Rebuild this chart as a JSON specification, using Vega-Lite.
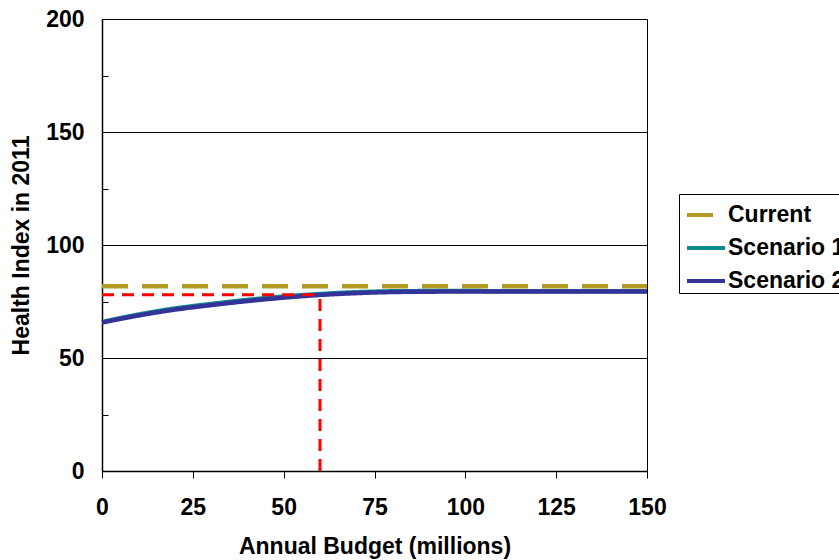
{
  "$schema": "https://vega.github.io/schema/vega-lite/v6.json",
  "width": 545,
  "height": 452,
  "autosize": "none",
  "padding": {"left": 102, "top": 19, "right": 192, "bottom": 89},
  "background": "white",
  "config": {
    "font": "Liberation Sans",
    "view": {"stroke": "black", "strokeWidth": 1}
  },
  "datasets": {
    "series": [
      {"budget": 0, "index": 81.8, "series": "Current"},
      {"budget": 150, "index": 81.8, "series": "Current"},
      {"budget": 0, "index": 65.9, "series": "Scenario 1"},
      {"budget": 10, "index": 69.2, "series": "Scenario 1"},
      {"budget": 20, "index": 71.9, "series": "Scenario 1"},
      {"budget": 30, "index": 73.9, "series": "Scenario 1"},
      {"budget": 40, "index": 75.7, "series": "Scenario 1"},
      {"budget": 50, "index": 77.2, "series": "Scenario 1"},
      {"budget": 60, "index": 78.3, "series": "Scenario 1"},
      {"budget": 70, "index": 79.1, "series": "Scenario 1"},
      {"budget": 80, "index": 79.5, "series": "Scenario 1"},
      {"budget": 90, "index": 79.6, "series": "Scenario 1"},
      {"budget": 100, "index": 79.6, "series": "Scenario 1"},
      {"budget": 125, "index": 79.5, "series": "Scenario 1"},
      {"budget": 150, "index": 79.5, "series": "Scenario 1"},
      {"budget": 0, "index": 65.7, "series": "Scenario 2"},
      {"budget": 10, "index": 68.8, "series": "Scenario 2"},
      {"budget": 20, "index": 71.4, "series": "Scenario 2"},
      {"budget": 30, "index": 73.4, "series": "Scenario 2"},
      {"budget": 40, "index": 75.2, "series": "Scenario 2"},
      {"budget": 50, "index": 76.7, "series": "Scenario 2"},
      {"budget": 60, "index": 77.9, "series": "Scenario 2"},
      {"budget": 70, "index": 78.7, "series": "Scenario 2"},
      {"budget": 80, "index": 79.2, "series": "Scenario 2"},
      {"budget": 90, "index": 79.35, "series": "Scenario 2"},
      {"budget": 100, "index": 79.4, "series": "Scenario 2"},
      {"budget": 125, "index": 79.4, "series": "Scenario 2"},
      {"budget": 150, "index": 79.4, "series": "Scenario 2"}
    ],
    "guides": [
      {"budget": 0, "index": 78, "budget2": 60, "index2": 78},
      {"budget": 60, "index": 0, "budget2": 60, "index2": 78}
    ]
  },
  "layer": [
    {
      "data": {"name": "series"},
      "mark": {"type": "line", "strokeWidth": 4.5, "interpolate": "monotone"},
      "encoding": {
        "x": {
          "field": "budget",
          "type": "quantitative",
          "scale": {"domain": [0, 150], "nice": false},
          "axis": {
            "values": [0, 25, 50, 75, 100, 125, 150],
            "title": "Annual Budget (millions)",
            "grid": false,
            "labelFlush": false,
            "domainColor": "black",
            "domainWidth": 1.5,
            "tickColor": "black",
            "tickSize": 7,
            "labelFont": "Liberation Sans",
            "labelFontSize": 23,
            "labelFontWeight": "bold",
            "labelColor": "black",
            "labelPadding": 18,
            "titleFont": "Liberation Sans",
            "titleFontSize": 23,
            "titleFontWeight": "bold",
            "titleColor": "black",
            "titlePadding": 16
          }
        },
        "y": {
          "field": "index",
          "type": "quantitative",
          "scale": {"domain": [0, 200], "nice": false},
          "axis": {
            "values": [0, 25, 50, 75, 100, 125, 150, 175, 200],
            "title": "Health Index in 2011",
            "labelExpr": "datum.value % 50 === 0 ? datum.label : ''",
            "labelFlush": false,
            "grid": true,
            "gridColor": "black",
            "gridWidth": 1,
            "gridOpacity": {
              "condition": {"test": "datum.value % 50 === 0 && datum.value > 0 && datum.value < 200", "value": 1},
              "value": 0
            },
            "domainColor": "black",
            "domainWidth": 1.5,
            "tickColor": "black",
            "tickSize": -6,
            "labelFont": "Liberation Sans",
            "labelFontSize": 23,
            "labelFontWeight": "bold",
            "labelColor": "black",
            "labelPadding": 24,
            "titleFont": "Liberation Sans",
            "titleFontSize": 23,
            "titleFontWeight": "bold",
            "titleColor": "black",
            "titlePadding": 12
          }
        },
        "color": {
          "field": "series",
          "type": "nominal",
          "scale": {
            "domain": ["Current", "Scenario 1", "Scenario 2"],
            "range": ["#B39A24", "#0E8C8C", "#333399"]
          },
          "legend": {
            "title": null,
            "orient": "none",
            "legendX": 577,
            "legendY": 175,
            "strokeColor": "black",
            "fillColor": "white",
            "padding": 0,
            "symbolOffset": 6,
            "symbolType": "stroke",
            "symbolSize": 1444,
            "symbolStrokeWidth": 4,
            "labelFont": "Liberation Sans",
            "labelFontSize": 23,
            "labelFontWeight": "bold",
            "labelColor": "black",
            "labelOffset": 1,
            "rowPadding": 0
          }
        },
        "strokeDash": {
          "field": "series",
          "type": "nominal",
          "scale": {
            "domain": ["Current", "Scenario 1", "Scenario 2"],
            "range": [[26, 14], [1, 0], [1, 0]]
          },
          "legend": {
            "title": null,
            "orient": "none",
            "legendX": 577,
            "legendY": 175,
            "strokeColor": "black",
            "fillColor": "white",
            "padding": 0,
            "symbolOffset": 6,
            "symbolType": "stroke",
            "symbolSize": 1444,
            "symbolStrokeWidth": 4,
            "labelFont": "Liberation Sans",
            "labelFontSize": 23,
            "labelFontWeight": "bold",
            "labelColor": "black",
            "labelOffset": 1,
            "rowPadding": 0
          }
        }
      }
    },
    {
      "data": {"name": "guides"},
      "mark": {"type": "rule", "color": "#FF0000", "strokeWidth": 3, "strokeDash": [12, 8]},
      "encoding": {
        "x": {"field": "budget", "type": "quantitative"},
        "x2": {"field": "budget2"},
        "y": {"field": "index", "type": "quantitative"},
        "y2": {"field": "index2"}
      }
    }
  ]
}
